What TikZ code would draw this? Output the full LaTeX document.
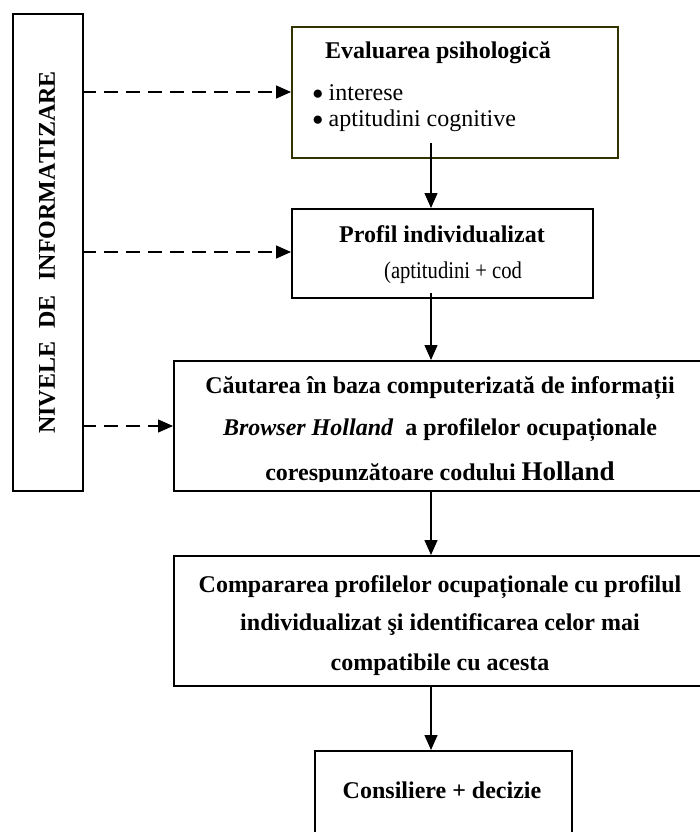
\documentclass[tikz,border=0pt]{standalone}
\usepackage{fontspec}
\setmainfont{Liberation Serif}
\usetikzlibrary{arrows.meta}
\definecolor{olivebord}{RGB}{51,51,0}
\newcommand{\bigdot}{\raisebox{1.5pt}{\fontsize{19}{19}\selectfont ●}}
\begin{document}
\begin{tikzpicture}[x=1pt,y=-1pt,
  box/.style={draw,line width=1.6pt,inner sep=0pt,anchor=north west},
  arr/.style={line width=1.4pt,-{Triangle[length=15pt,width=13pt]}},
  darr/.style={arr,dash pattern=on 14pt off 8pt},
  txt/.style={inner sep=0pt,anchor=base,font=\fontsize{24}{28}\selectfont},
  btxt/.style={txt,font=\fontsize{24}{28}\selectfont\bfseries},
  bul/.style={inner sep=0pt,anchor=base west,font=\fontsize{24}{28}\selectfont}]
\clip (0,0) rectangle (700,832);
% boxes
\node[box,minimum width=70pt,minimum height=477pt] (lvl) at (12,13) {};
\node[box,draw=olivebord,minimum width=326pt,minimum height=131pt] (eval) at (291,26) {};
\node[box,minimum width=301pt,minimum height=89pt] (prof) at (291,208) {};
\node[box,minimum width=527pt,minimum height=130pt] (caut) at (173,360) {};
\node[box,minimum width=527pt,minimum height=130pt] (comp) at (173,555) {};
\node[box,minimum width=257pt,minimum height=100pt] (cons) at (314,750) {};
% vertical label
\node[inner sep=0pt,rotate=90,font=\fontsize{24}{28}\selectfont\bfseries] (lbl) at (47,253)
  {NIVELE\hspace{13pt}DE\hspace{15pt}\makebox[208pt][s]{I\hfil N\hfil F\hfil O\hfil R\hfil M\hfil A\hfil T\hfil I\hfil Z\hfil A\hfil R\hfil E}};
% texts
\node[btxt] (t1) at (438,59) {Evaluarea psihologică};
\node[bul] (t2) at (312,101) {\bigdot\hspace{5pt}interese};
\node[bul] (t3) at (312,127) {\bigdot\hspace{5pt}aptitudini cognitive};
\node[btxt] (t4) at (442,242) {Profil individualizat};
\node[txt] (t5) at (453,278) {\scalebox{0.86}[1]{(aptitudini + cod}};
\node[btxt] (t6) at (440,393) {Căutarea în baza computerizată de informații};
\node[btxt] (t7) at (440,435) {\textit{Browser Holland}\ \ a profilelor ocupaționale};
\begin{scope}
\clip (173,440) rectangle (700,481);
\node[btxt] (t8) at (440,480) {corespunzătoare codului {\fontsize{27}{30}\selectfont Holland}};
\end{scope}
\node[btxt] (t9) at (440,592) {Compararea profilelor ocupaționale cu profilul};
\node[btxt] (t10) at (440,630) {individualizat şi identificarea celor mai};
\node[btxt] (t11) at (440,670) {compatibile cu acesta};
\node[btxt] (t12) at (442,798) {Consiliere + decizie};
% solid arrows
\coordinate (s1) at (431,143);
\coordinate (s2) at (431,293);
\draw[arr] (s1) -- (s1 |- prof.north);
\draw[arr] (s2) -- (s2 |- caut.north);
\draw[arr] (s2 |- caut.south) -- (s2 |- comp.north);
\draw[arr] (s2 |- comp.south) -- (s2 |- cons.north);
% dashed arrows
\coordinate (d1) at (82,92);
\coordinate (d2) at (82,252);
\coordinate (d3) at (82,426);
\draw[darr] (d1) -- (d1 -| eval.west);
\draw[darr] (d2) -- (d2 -| prof.west);
\draw[darr] (d3) -- (d3 -| caut.west);
\end{tikzpicture}
\end{document}
